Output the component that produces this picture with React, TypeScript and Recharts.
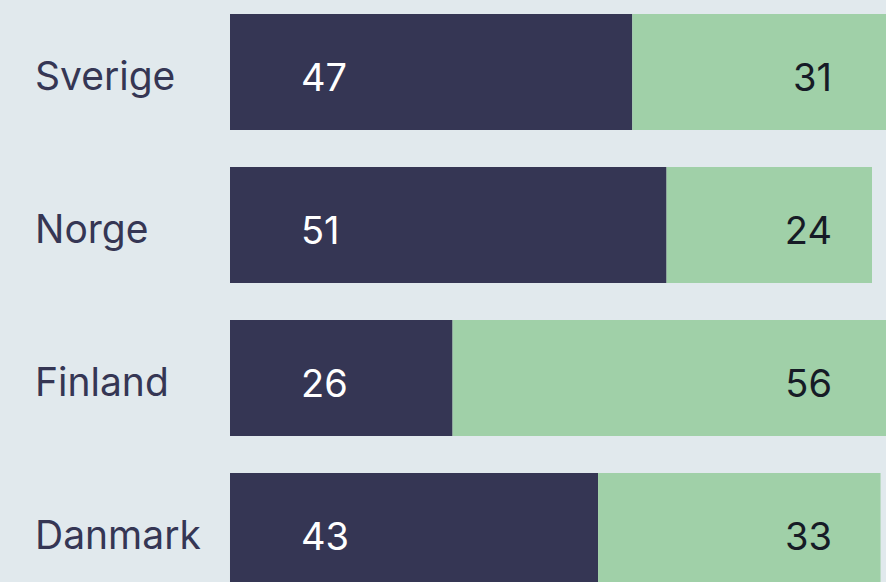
import React from "react";
import { BarChart, Bar, XAxis, YAxis, LabelList } from "recharts";

const countries = ["Sverige", "Norge", "Finland", "Danmark"];
const darkValues = [47, 51, 26, 43];
const greenValues = [31, 24, 56, 33];

const data = countries.map((c, i) => ({ name: c, a: darkValues[i], b: greenValues[i] }));

const FONT = "Inter, 'Noto Sans', sans-serif";
const DARK = "#353654";
const GREEN = "#a0d0a8";
const BG = "#e1e9ed";

const AXIS_LEFT = 230;

const DarkLabel = (props: any) => {
  const { x, y, height, value } = props;
  return (
    <text x={x + 71} y={y + height / 2} dy={18.5} fill="#ffffff" fontSize={38} fontFamily={FONT} textAnchor="start">
      {value}
    </text>
  );
};

const GreenLabel = (props: any) => {
  const { y, height, value } = props;
  return (
    <text x={AXIS_LEFT + 602} y={y + height / 2} dy={18.5} fill="#161b26" fontSize={38} fontFamily={FONT} textAnchor="end">
      {value}
    </text>
  );
};

const CatTick = (props: any) => {
  const { y, payload } = props;
  return (
    <text x={35} y={y} dy={18.5} fill={DARK} fontSize={39} fontFamily={FONT} textAnchor="start">
      {payload.value}
    </text>
  );
};

export default function App() {
  return (
    <div style={{ position: "fixed", left: 0, top: 0, width: 886, height: 582, overflow: "hidden", background: BG }}>
      <div style={{ position: "absolute", left: 0, top: -5.5 }}>
        <BarChart width={1086} height={612} data={data} layout="vertical" margin={{ top: 0, right: 0, bottom: 0, left: 0 }}>
          <XAxis type="number" domain={[0, 100]} hide />
          <YAxis type="category" dataKey="name" width={AXIS_LEFT} axisLine={false} tickLine={false} tick={<CatTick />} />
          <Bar dataKey="a" stackId="s" fill={DARK} barSize={116} isAnimationActive={false}>
            <LabelList dataKey="a" content={<DarkLabel />} />
          </Bar>
          <Bar dataKey="b" stackId="s" fill={GREEN} barSize={116} isAnimationActive={false}>
            <LabelList dataKey="b" content={<GreenLabel />} />
          </Bar>
        </BarChart>
      </div>
    </div>
  );
}
